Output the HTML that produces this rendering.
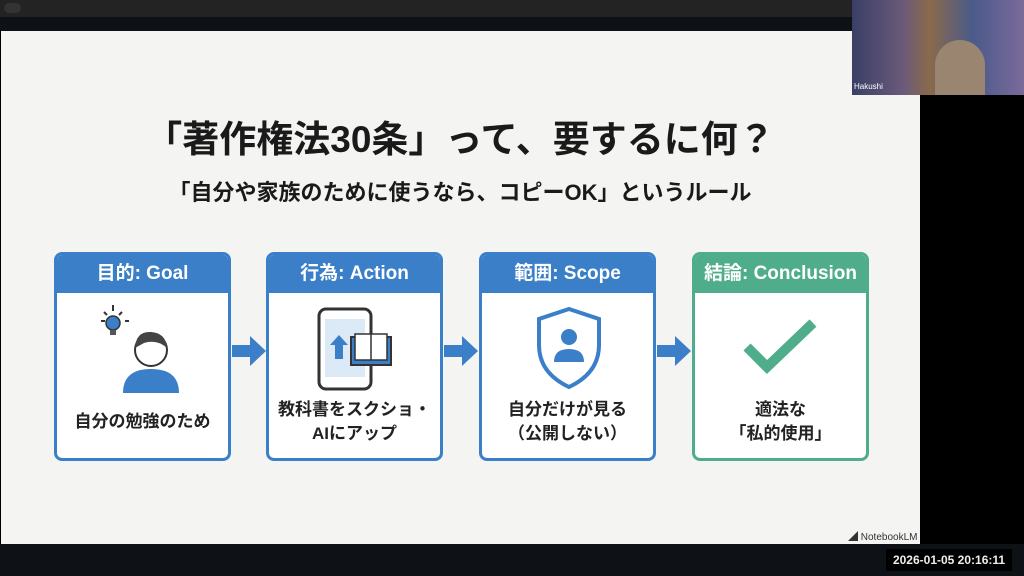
<!DOCTYPE html>
<html><head><meta charset="utf-8"><style>
body{margin:0;width:1024px;height:576px;background:#000;position:relative;overflow:hidden;font-family:"Liberation Sans","Noto Sans CJK JP",sans-serif}
.abs{position:absolute}
.card{position:absolute;top:252px;width:171px;height:203px;border:3px solid #3b7fc9;border-radius:8px;background:#fff;overflow:hidden}
.card .h{height:38px;background:#3b7fc9;color:#fff;font-weight:bold;font-size:19px;text-align:center;line-height:38px}
.card .t{position:absolute;left:0;right:0;top:140px;height:54px;display:flex;align-items:center;justify-content:center;text-align:center;font-weight:bold;font-size:17px;line-height:24px;color:#222}
.arr{position:absolute;top:336px;width:34px;height:30px}
</style></head><body>
<div class="abs" style="left:0;top:0;width:1024px;height:17px;background:#232323"></div>
<div class="abs" style="left:4px;top:3px;width:17px;height:10px;border-radius:5px;background:#333"></div>
<div class="abs" style="left:0;top:17px;width:920px;height:14px;background:#0e1217"></div>
<div class="abs" style="left:1px;top:31px;width:919px;height:513px;background:#f4f4f3"></div>
<div class="abs" style="left:0;top:544px;width:1024px;height:32px;background:#0e1217"></div>
<div class="abs" style="left:920px;top:95px;width:104px;height:449px;background:#000"></div>
<div class="abs" style="left:852px;top:0;width:172px;height:95px;background:linear-gradient(90deg,#3a3f66,#6b5a7a 30%,#8a6a4a 45%,#4a5a8a 70%,#7b6a9a)"></div>
<div class="abs" style="left:935px;top:40px;width:50px;height:55px;border-radius:25px 25px 0 0;background:#9a8570"></div>
<div class="abs" style="left:854px;top:82px;color:#fff;font-size:8px">Hakushi</div>
<div class="abs" style="left:0;width:920px;top:109px;text-align:center;font-size:37px;font-weight:bold;color:#1a1a1a">「著作権法30条」って、要するに何？</div>
<div class="abs" style="left:0;width:920px;top:175px;text-align:center;font-size:22px;font-weight:bold;color:#1a1a1a">「自分や家族のために使うなら、コピーOK」というルール</div>

<div class="card" style="left:54px"><div class="h">目的: Goal</div>
<svg class="abs" style="left:42px;top:50px" width="90" height="92"><g stroke="#333" stroke-width="2"><line x1="14" y1="6" x2="14" y2="0"/><line x1="2" y1="16" x2="6" y2="16"/><line x1="26" y1="16" x2="30" y2="16"/><line x1="5" y1="7" x2="8" y2="10"/><line x1="23" y1="7" x2="20" y2="10"/></g><circle cx="14" cy="18" r="7" fill="#3b7fc9" stroke="#333" stroke-width="1.5"/><rect x="11" y="25" width="6" height="5" fill="#555"/><path d="M24 88 Q24 64 52 64 Q80 64 80 88Z" fill="#3b7fc9"/><circle cx="52" cy="45" r="16" fill="#fff" stroke="#333" stroke-width="2"/><path d="M36 43 Q37 26 52 27 Q67 28 68 43 Q58 34 45 38Z" fill="#444"/></svg>
<div class="t">自分の勉強のため</div></div>
<div class="card" style="left:266px"><div class="h">行為: Action</div>
<svg class="abs" style="left:48px;top:52px" width="80" height="86"><rect x="2" y="2" width="52" height="80" rx="7" fill="#fff" stroke="#333" stroke-width="3"/><rect x="8" y="12" width="40" height="58" fill="#dce9f7"/><path d="M18 52V38H13L22 28 31 38H26V52Z" fill="#3b7fc9"/><path d="M34 30H74V58H34Z" fill="#3b7fc9" stroke="#333" stroke-width="2"/><path d="M38 27H54V53H38ZM54 27H70V53H54Z" fill="#fff" stroke="#333" stroke-width="1.5"/></svg>
<div class="t">教科書をスクショ・<br>AIにアップ</div></div>
<div class="card" style="left:479px"><div class="h">範囲: Scope</div>
<svg class="abs" style="left:51px;top:50px" width="72" height="86"><path d="M36 4 L66 14 V40 Q66 68 36 82 Q6 68 6 40 V14Z" fill="#fff" stroke="#3b7fc9" stroke-width="4"/><circle cx="36" cy="32" r="8" fill="#3b7fc9"/><path d="M21 57 Q21 44 36 44 Q51 44 51 57Z" fill="#3b7fc9"/></svg>
<div class="t">自分だけが見る<br>（公開しない）</div></div>
<div class="card" style="left:692px;border-color:#4fad8c"><div class="h" style="background:#4fad8c">結論: Conclusion</div>
<svg class="abs" style="left:46px;top:62px" width="80" height="60"><path d="M6 30 L26 50 L72 6" fill="none" stroke="#4fad8c" stroke-width="10"/></svg>
<div class="t">適法な<br>「私的使用」</div></div>

<svg class="arr" style="left:232px" viewBox="0 0 34 30"><path d="M0 9H18V0L34 15 18 30V21H0Z" fill="#3b7fc9"/></svg>
<svg class="arr" style="left:444px" viewBox="0 0 34 30"><path d="M0 9H18V0L34 15 18 30V21H0Z" fill="#3b7fc9"/></svg>
<svg class="arr" style="left:657px" viewBox="0 0 34 30"><path d="M0 9H18V0L34 15 18 30V21H0Z" fill="#3b7fc9"/></svg>

<div class="abs" style="left:848px;top:528px;font-size:10px;color:#333">◢ NotebookLM</div>
<div class="abs" style="left:886px;top:549px;width:126px;height:22px;background:#000;color:#eee;font-size:12px;line-height:22px;text-align:center;font-weight:bold">2026-01-05 20:16:11</div>
</body></html>
